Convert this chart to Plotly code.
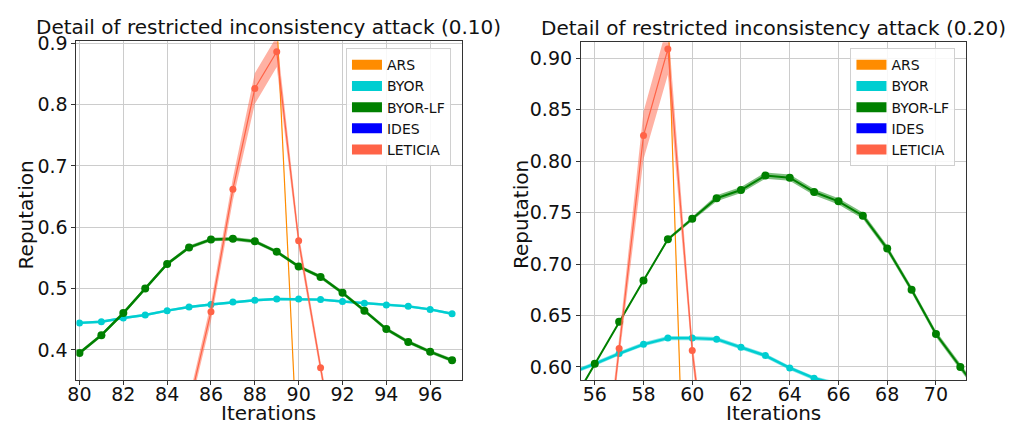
import plotly.graph_objects as go

# ---------------- data: left panel (attack 0.10) ----------------
it_a = [80, 81, 82, 83, 84, 85, 86, 87, 88, 89, 90, 91, 92, 93, 94, 95, 96, 97]
byor_a = [0.444, 0.446, 0.452, 0.457, 0.464, 0.470, 0.474, 0.478, 0.481, 0.483,
          0.483, 0.482, 0.479, 0.476, 0.473, 0.471, 0.466, 0.459]
byor_a_sd = [0.002] * 18
byorlf_a = [0.395, 0.424, 0.460, 0.500, 0.540, 0.567, 0.580, 0.581, 0.577, 0.560,
            0.536, 0.519, 0.493, 0.464, 0.434, 0.413, 0.397, 0.383]
byorlf_a_sd = [0.003] * 18
let_it_a = [85, 86, 87, 88, 89, 90, 91, 92]
leticia_a = [0.310, 0.462, 0.662, 0.826, 0.886, 0.578, 0.371, 0.170]
leticia_a_sd = [0.012, 0.015, 0.018, 0.025, 0.025, 0.012, 0.010, 0.010]
ars_it_a = [85, 86, 87, 88, 89, 90, 91, 92]
ars_a = [1.0, 1.0, 1.0, 1.0, 0.94, 0.19, 0.0, 0.0]
ars_a_sd = [0.004] * 8

# ---------------- data: right panel (attack 0.20) ----------------
it_b = [55, 56, 57, 58, 59, 60, 61, 62, 63, 64, 65, 66, 67, 68, 69, 70, 71, 72]
byor_b = [0.594, 0.603, 0.613, 0.622, 0.628, 0.628, 0.627, 0.619, 0.611, 0.599,
          0.589, 0.583, 0.575, 0.565, 0.553, 0.540, 0.528, 0.515]
byor_b_sd = [0.002] * 18
byorlf_b = [0.562, 0.603, 0.644, 0.684, 0.724, 0.744, 0.764, 0.772, 0.786, 0.784,
            0.770, 0.761, 0.747, 0.715, 0.675, 0.632, 0.600, 0.568]
byorlf_b_sd = [0.0005, 0.0005, 0.0008, 0.001, 0.0015, 0.002, 0.003, 0.003, 0.003,
               0.003, 0.003, 0.003, 0.003, 0.003, 0.003, 0.003, 0.003, 0.003]
let_it_b = [56, 57, 58, 59, 60, 61]
leticia_b = [0.410, 0.618, 0.825, 0.909, 0.616, 0.420]
leticia_b_sd = [0.010, 0.010, 0.023, 0.025, 0.010, 0.010]
ars_it_b = [56, 57, 58, 59, 60, 61]
ars_b = [1.0, 1.0, 1.0, 0.95, 0.22, 0.0]
ars_b_sd = [0.004] * 6

names = ["ARS", "BYOR", "BYOR-LF", "IDES", "LETICIA"]
colors = {"ARS": "#ff8c00", "BYOR": "#00ced1", "BYOR-LF": "#008000",
          "IDES": "#0000ff", "LETICIA": "#ff6347"}
band_colors = {"ARS": "rgba(255,140,0,0.5)", "BYOR": "rgba(0,206,209,0.5)",
               "BYOR-LF": "rgba(0,128,0,0.5)", "IDES": "rgba(0,0,255,0.5)",
               "LETICIA": "rgba(255,99,71,0.5)"}

FONT = "DejaVu Sans"
fig = go.Figure()


def add_series(x, y, sd, name, xa, ya, lw, msize, marker=True):
    up = [v + s for v, s in zip(y, sd)]
    lo = [v - s for v, s in zip(y, sd)]
    fig.add_trace(go.Scatter(x=x, y=up, mode="lines", line=dict(width=0),
                             showlegend=False, hoverinfo="skip", xaxis=xa, yaxis=ya))
    fig.add_trace(go.Scatter(x=x, y=lo, mode="lines", line=dict(width=0),
                             fill="tonexty", fillcolor=band_colors[name],
                             showlegend=False, hoverinfo="skip", xaxis=xa, yaxis=ya))
    fig.add_trace(go.Scatter(x=x, y=y, mode="lines+markers" if marker else "lines",
                             line=dict(color=colors[name], width=lw),
                             marker=dict(color=colors[name], size=msize),
                             showlegend=False, xaxis=xa, yaxis=ya))


# left panel
add_series(ars_it_a, ars_a, ars_a_sd, "ARS", "x", "y", 1.2, 0, marker=False)
add_series(it_a, byor_a, byor_a_sd, "BYOR", "x", "y", 2.4, 7)
add_series(it_a, byorlf_a, byorlf_a_sd, "BYOR-LF", "x", "y", 2.4, 8)
add_series(let_it_a, leticia_a, leticia_a_sd, "LETICIA", "x", "y", 1.2, 7)
# right panel
add_series(ars_it_b, ars_b, ars_b_sd, "ARS", "x2", "y2", 1.2, 0, marker=False)
add_series(it_b, byor_b, byor_b_sd, "BYOR", "x2", "y2", 2.4, 7)
add_series(it_b, byorlf_b, byorlf_b_sd, "BYOR-LF", "x2", "y2", 2.0, 8)
add_series(let_it_b, leticia_b, leticia_b_sd, "LETICIA", "x2", "y2", 1.2, 7)

# legend entries (patches)
for lg, xa, ya in (("legend", "x", "y"), ("legend2", "x2", "y2")):
    for n in names:
        fig.add_trace(go.Scatter(x=[None], y=[None], mode="lines", name=n,
                                 line=dict(color=colors[n], width=10),
                                 legend=lg, xaxis=xa, yaxis=ya, showlegend=True))

W, H = 1013, 425
def px_x(p):
    return p / W
def px_y(p):
    return 1 - p / H

TXT = "#111111"
axis_common = dict(showgrid=True, gridcolor="#cccccc", gridwidth=1,
                   showline=True, linecolor="#333333", linewidth=1, mirror=True,
                   ticks="outside", ticklen=4, tickcolor="#333333",
                   tickfont=dict(family=FONT, size=19, color=TXT),
                   zeroline=False)

legend_common = dict(xanchor="left", yanchor="top", traceorder="normal",
                     bgcolor="rgba(255,255,255,0.85)", bordercolor="#d0d0d0", borderwidth=1,
                     font=dict(family=FONT, size=14, color=TXT),
                     itemwidth=30, tracegroupgap=0)

fig.update_layout(
    width=W, height=H,
    margin=dict(l=0, r=0, t=0, b=0),
    paper_bgcolor="white", plot_bgcolor="white",
    xaxis=dict(domain=[px_x(68), px_x(457)], range=[79.86, 97.45], dtick=2,
               tick0=80, anchor="y", ticklabelstandoff=-7, **axis_common),
    yaxis=dict(domain=[px_y(379), px_y(33)], range=[0.351, 0.903], dtick=0.1,
               tick0=0.4, tickformat=".1f", anchor="x", **axis_common),
    xaxis2=dict(domain=[px_x(577), px_x(966)], range=[55.43, 71.25], dtick=2,
                tick0=56, anchor="y2", ticklabelstandoff=-7, **axis_common),
    yaxis2=dict(domain=[px_y(379), px_y(34)], range=[0.5873, 0.9156], dtick=0.05,
                tick0=0.6, tickformat=".2f", anchor="x2", **axis_common),
    legend=dict(x=px_x(340), y=px_y(40), **legend_common),
    legend2=dict(x=px_x(849), y=px_y(40), **legend_common),
    annotations=[
        dict(text="Detail of restricted inconsistency attack (0.10)", x=px_x(262), y=px_y(18),
             xref="paper", yref="paper", showarrow=False, xanchor="center", yanchor="middle",
             font=dict(family=FONT, size=20, color=TXT)),
        dict(text="Detail of restricted inconsistency attack (0.20)", x=px_x(771), y=px_y(19),
             xref="paper", yref="paper", showarrow=False, xanchor="center", yanchor="middle",
             font=dict(family=FONT, size=20, color=TXT)),
        dict(text="Iterations", x=px_x(262), y=px_y(413), xref="paper", yref="paper",
             showarrow=False, xanchor="center", yanchor="middle",
             font=dict(family=FONT, size=20, color=TXT)),
        dict(text="Iterations", x=px_x(771), y=px_y(413), xref="paper", yref="paper",
             showarrow=False, xanchor="center", yanchor="middle",
             font=dict(family=FONT, size=20, color=TXT)),
        dict(text="Reputation", x=px_x(17), y=px_y(210), xref="paper", yref="paper",
             showarrow=False, textangle=-90, xanchor="center", yanchor="middle",
             font=dict(family=FONT, size=20, color=TXT)),
        dict(text="Reputation", x=px_x(516), y=px_y(210), xref="paper", yref="paper",
             showarrow=False, textangle=-90, xanchor="center", yanchor="middle",
             font=dict(family=FONT, size=20, color=TXT)),
    ],
)

fig.write_html("out.html", config={"displayModeBar": False},
               post_script="document.body.style.margin='0px';document.body.style.padding='0px';")
